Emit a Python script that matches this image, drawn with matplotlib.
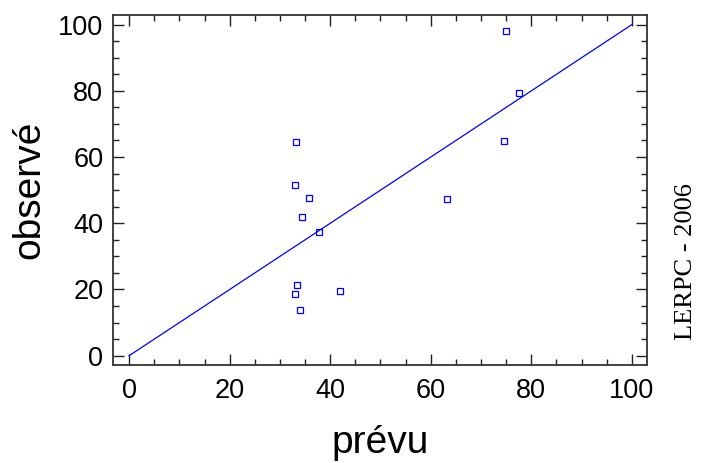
import numpy as np
import matplotlib.pyplot as plt
from matplotlib.ticker import MultipleLocator

# Observed vs predicted values
prevu = [74.9, 77.5, 74.6, 63.2, 33.2, 33.0, 35.7, 34.3, 37.7, 33.4, 33.0, 42.0, 34.0]
observe = [98.2, 79.2, 64.9, 47.3, 64.6, 51.6, 47.6, 41.9, 37.3, 21.5, 18.5, 19.4, 13.9]
ligne = [0, 100]

plt.rcParams['font.family'] = ['Liberation Sans', 'DejaVu Sans']

fig = plt.figure(figsize=(7.08, 4.63), dpi=100)
ax = fig.add_axes([0.1596, 0.2117, 0.7542, 0.7559])

ax.plot(ligne, ligne, color='#0000ff', linewidth=0.9)
ax.plot(prevu, observe, linestyle='none', marker='s', markersize=4.2,
        markerfacecolor='none', markeredgecolor='#0000ff', markeredgewidth=0.9)

ax.set_xlim(-3.2, 103)
ax.set_ylim(-2.8, 102.9)
ax.xaxis.set_major_locator(MultipleLocator(20))
ax.xaxis.set_minor_locator(MultipleLocator(5))
ax.yaxis.set_major_locator(MultipleLocator(20))
ax.yaxis.set_minor_locator(MultipleLocator(5))
ax.tick_params(which='both', direction='in', top=True, right=True,
               color='#222222', width=1.0, labelsize=19.5)
ax.tick_params(which='major', length=8)
ax.tick_params(which='minor', length=4.5)
ax.tick_params(axis='x', which='major', pad=9.5)
ax.tick_params(axis='y', which='major', pad=7)
for s in ax.spines.values():
    s.set_color('#333333')
    s.set_linewidth(1.3)

ax.set_xlabel('prévu', fontsize=28, labelpad=15)
ax.set_ylabel('observé', fontsize=28, labelpad=8)

fig.text(0.969, 0.434, 'LERPC - 2006', rotation=90, ha='center', va='center',
         fontsize=19, family=['Liberation Serif', 'DejaVu Serif'])

fig.savefig('out.png', dpi=100)
